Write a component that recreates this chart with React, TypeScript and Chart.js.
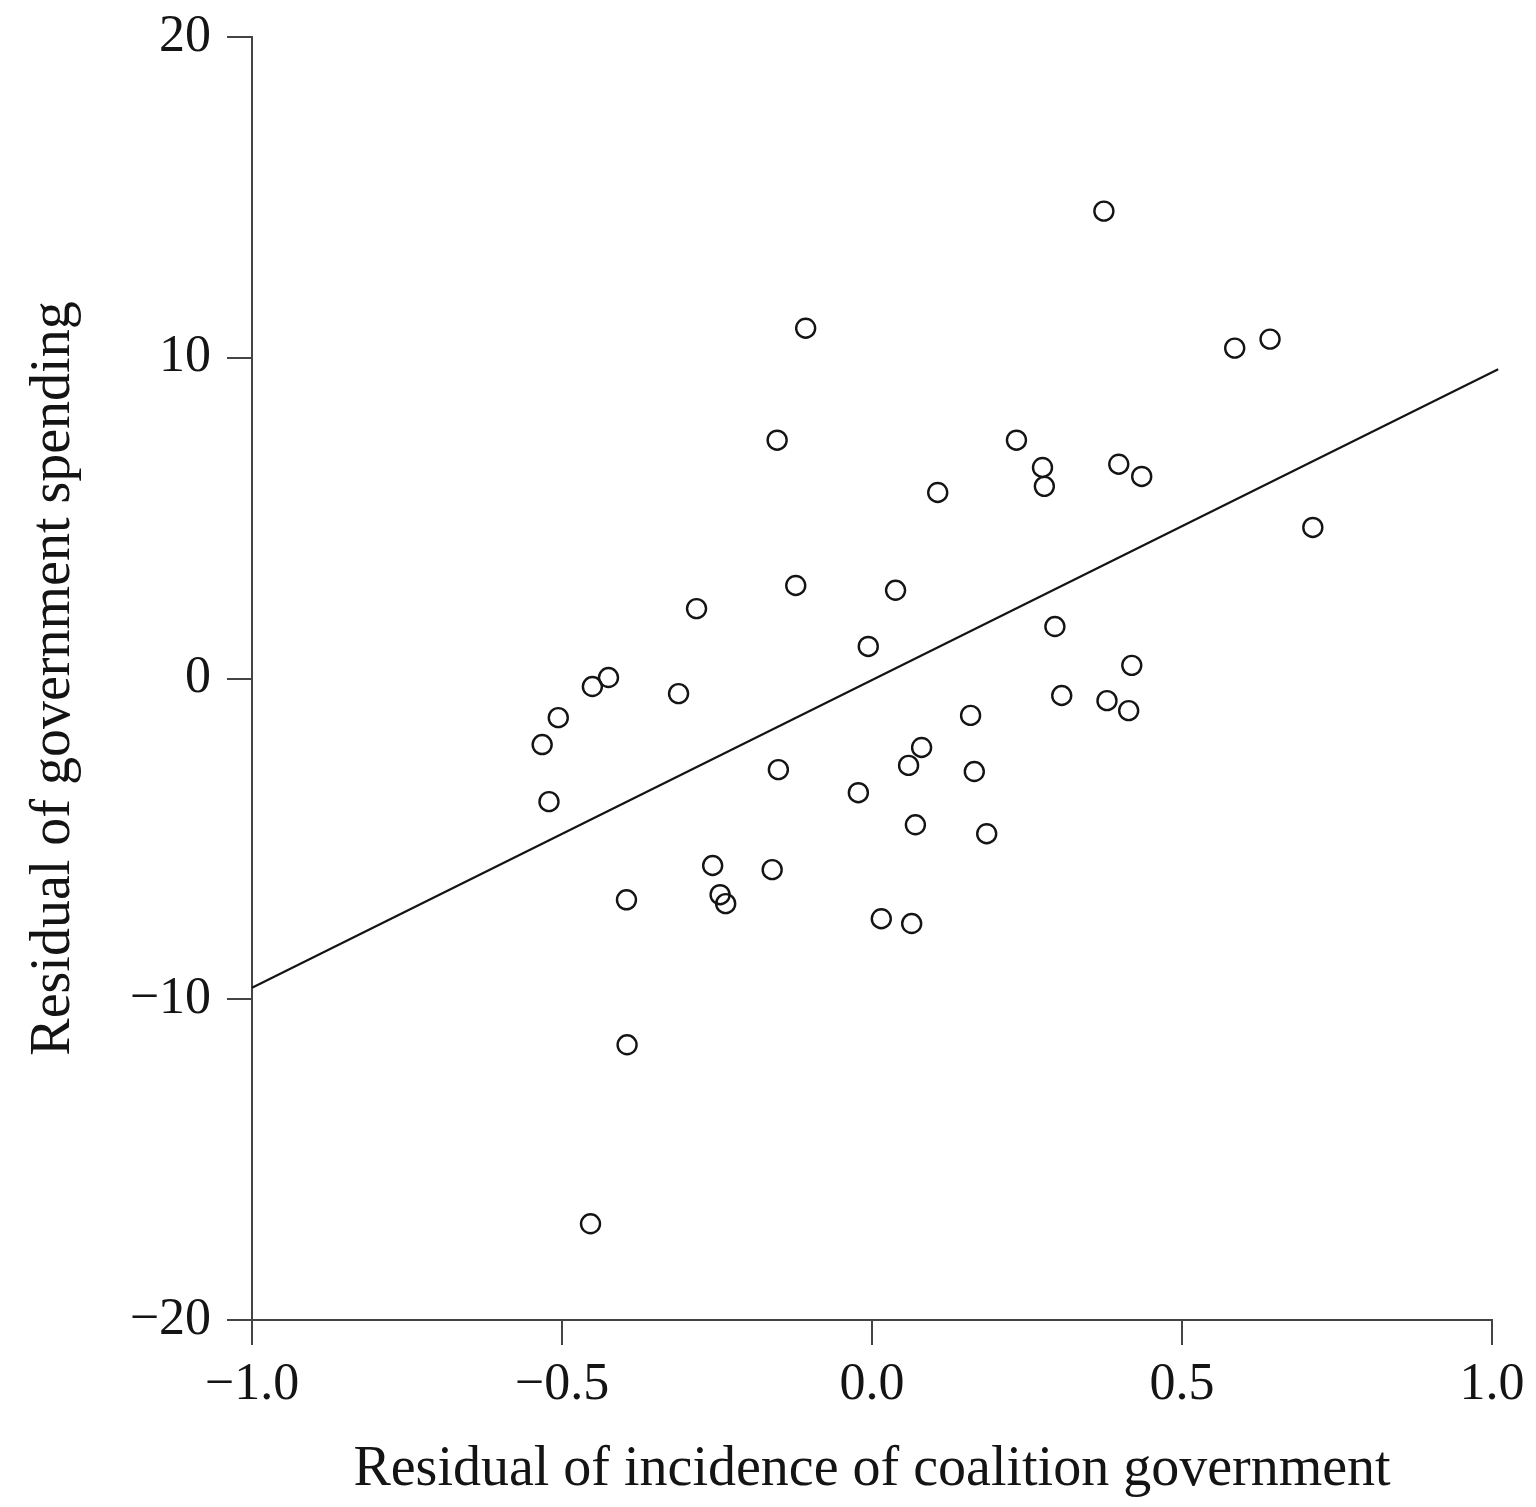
import React, { useEffect, useRef } from "react";
import { Chart, registerables } from "chart.js";

Chart.register(...registerables);

const pointsX = [
  0.374, -0.107, 0.585, 0.642, -0.153, 0.233, 0.275, 0.278, 0.398, 0.435,
  0.106, 0.711, -0.123, 0.038, -0.283, 0.295, -0.006, -0.425, -0.451, -0.312,
  0.419, -0.506, 0.306, 0.379, 0.414, 0.159, -0.532, 0.080, 0.059, -0.151,
  0.165, -0.022, -0.521, 0.070, 0.185, -0.257, -0.161, -0.245, -0.236, -0.396,
  0.015, 0.064, -0.395, -0.454,
];
const pointsY = [
  14.57, 10.92, 10.30, 10.58, 7.43, 7.43, 6.58, 5.99, 6.68, 6.30,
  5.80, 4.71, 2.90, 2.75, 2.18, 1.62, 1.00, 0.03, -0.25, -0.47,
  0.41, -1.22, -0.53, -0.69, -1.00, -1.15, -2.06, -2.15, -2.71, -2.84,
  -2.90, -3.56, -3.84, -4.56, -4.84, -5.83, -5.96, -6.74, -7.02, -6.90,
  -7.49, -7.64, -11.42, -17.00,
];
const fitLineX = [-1.0, 1.01];
const fitLineY = [-9.64, 9.64];

const xTicks = [-1.0, -0.5, 0.0, 0.5, 1.0];
const yTicks = [-20, -10, 0, 10, 20];

const xTitle = "Residual of incidence of coalition government";
const yTitle = "Residual of government spending";

const FONT = "'Liberation Serif', 'DejaVu Serif', serif";
const INK = "#141414";
const AXIS = "#444444";

const fmtX = (v: number) => {
  const s = Math.abs(v).toFixed(1);
  return v < -1e-9 ? "\u2212" + s : s;
};
const fmtY = (v: number) => {
  const s = Math.abs(Math.round(v)).toString();
  return v < -1e-9 ? "\u2212" + s : s;
};

export default function App() {
  const ref = useRef<HTMLCanvasElement | null>(null);

  useEffect(() => {
    if (!ref.current) return;
    const scatterData = pointsX.map((x, i) => ({ x, y: pointsY[i] }));
    const lineData = fitLineX.map((x, i) => ({ x, y: fitLineY[i] }));
    const chart = new Chart(ref.current, {
      type: "scatter",
      data: {
        datasets: [
          {
            type: "line",
            data: lineData,
            borderColor: INK,
            borderWidth: 2.2,
            pointRadius: 0,
            fill: false,
            clip: false as any,
            order: 2,
          } as any,
          {
            type: "scatter",
            data: scatterData,
            pointRadius: 9.5,
            pointBorderWidth: 2.4,
            borderColor: INK,
            backgroundColor: "rgba(0,0,0,0)",
            pointBackgroundColor: "rgba(0,0,0,0)",
            pointBorderColor: INK,
            order: 1,
          } as any,
        ],
      },
      options: {
        animation: false,
        responsive: true,
        maintainAspectRatio: false,
        layout: { padding: { top: 37, right: 44, bottom: 0, left: 0 } },
        plugins: {
          legend: { display: false },
          tooltip: { enabled: false },
        },
        scales: {
          x: {
            type: "linear",
            min: -1,
            max: 1,
            afterBuildTicks: (scale: any) => {
              scale.ticks = xTicks.map((v) => ({ value: v }));
            },
            afterFit: (scale: any) => {
              scale.height = 187;
              scale.paddingLeft = 0;
              scale.paddingRight = 0;
            },
            border: { display: true, color: AXIS, width: 2 },
            grid: {
              display: true,
              drawOnChartArea: false,
              drawTicks: true,
              tickLength: 25,
              color: AXIS,
              lineWidth: 2,
            },
            ticks: {
              callback: (v: any) => fmtX(Number(v)),
              color: INK,
              font: { family: FONT, size: 52 },
              padding: 9,
              maxRotation: 0,
              autoSkip: false,
            },
            title: {
              display: true,
              text: xTitle,
              color: INK,
              font: { family: FONT, size: 56 },
              padding: { top: 0, bottom: 3 },
            },
          },
          y: {
            type: "linear",
            min: -20,
            max: 20,
            afterBuildTicks: (scale: any) => {
              scale.ticks = yTicks.map((v) => ({ value: v }));
            },
            afterFit: (scale: any) => {
              scale.width = 252;
              scale.paddingTop = 0;
              scale.paddingBottom = 0;
            },
            border: { display: true, color: AXIS, width: 2 },
            grid: {
              display: true,
              drawOnChartArea: false,
              drawTicks: true,
              tickLength: 25,
              color: AXIS,
              lineWidth: 2,
            },
            ticks: {
              callback: (v: any) => fmtY(Number(v)),
              color: INK,
              font: { family: FONT, size: 52 },
              padding: 16,
              autoSkip: false,
            },
            title: {
              display: true,
              text: yTitle,
              color: INK,
              font: { family: FONT, size: 56 },
              padding: { top: 21, bottom: 0 },
            },
          },
        },
      },
    });
    return () => chart.destroy();
  }, []);

  return (
    <div
      style={{
        position: "fixed",
        left: 0,
        top: 0,
        width: 1536,
        height: 1507,
        background: "#ffffff",
      }}
    >
      <canvas ref={ref} />
    </div>
  );
}
